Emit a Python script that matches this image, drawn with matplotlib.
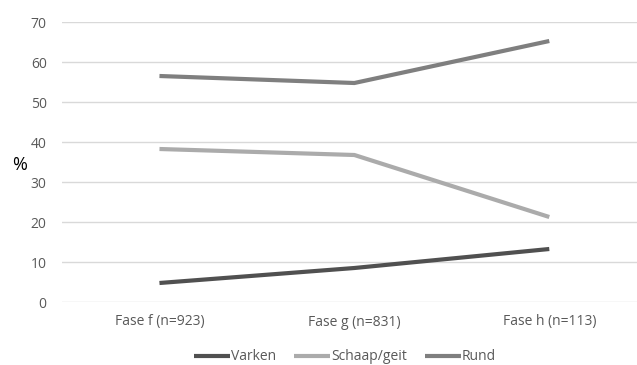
import matplotlib.pyplot as plt

plt.rcParams['font.family'] = ['Open Sans', 'DejaVu Sans']

fases = ['Fase f (n=923)', 'Fase g (n=831)', 'Fase h (n=113)']
varken = [4.75, 8.5, 13.25]
schaap = [38.25, 36.75, 21.25]
rund = [56.5, 54.75, 65.25]

fig = plt.figure(figsize=(6.37, 3.65), dpi=100)
ax = fig.add_axes([62/637, 63/365, 1 - 62/637, 280/365])

x = range(len(fases))
ax.plot(x, varken, color='#505050', lw=3, label='Varken', solid_capstyle='butt')
ax.plot(x, schaap, color='#ababab', lw=3, label='Schaap/geit', solid_capstyle='butt')
ax.plot(x, rund, color='#7f7f7f', lw=3, label='Rund', solid_capstyle='butt')

ax.set_ylim(0, 70)
ax.set_xlim(-0.5, 2.45)
ax.set_yticks(range(0, 71, 10))
ax.set_xticks(list(x))
ax.set_xticklabels(fases)
ax.grid(axis='y', color='#d9d9d9', lw=1)
ax.set_axisbelow(True)
for s in ax.spines.values():
    s.set_visible(False)
ax.tick_params(length=0, colors='#595959', labelsize=10)
ax.tick_params(axis='y', pad=11)
ax.tick_params(axis='x', pad=9)

fig.text(20/637, 1 - 165/365, '%', fontsize=13, ha='center', va='center', color='black')

fig.legend(loc='center', bbox_to_anchor=(345/637, 1 - 357/365), ncol=3, frameon=False,
           fontsize=10, handlelength=2.6, handletextpad=0.05, columnspacing=1.3,
           labelcolor='#595959')

fig.savefig('out.png', dpi=100)
